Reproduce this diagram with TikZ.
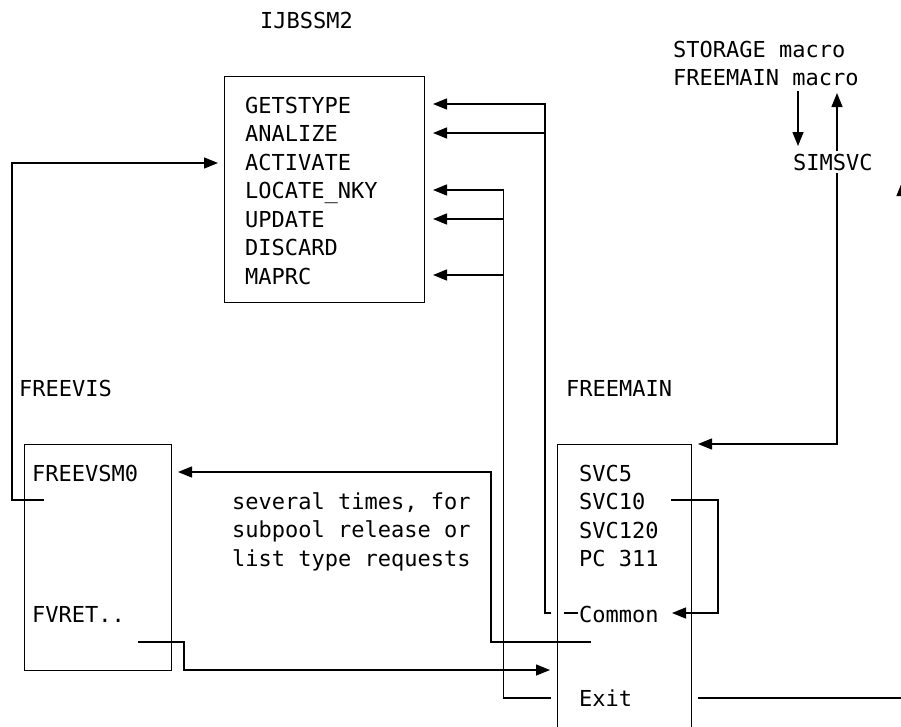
\documentclass[tikz,border=0pt]{standalone}
\usepackage{fontspec}
\newfontfamily\mono{DejaVu Sans Mono}
\usetikzlibrary{arrows.meta}
\begin{document}
\begin{tikzpicture}[x=1pt,y=-1pt,
  box/.style={draw, line width=1.4pt, inner sep=0pt, anchor=north west},
  lbl/.style={anchor=base west, inner sep=0pt, font=\mono\fontsize{22}{26}\selectfont},
  conn/.style={line width=1.4pt},
  arr/.style={conn,-{Triangle[length=14pt,width=11pt]}},
  darr/.style={conn,{Triangle[length=14pt,width=11pt]}-{Triangle[length=14pt,width=11pt]}}]
\clip (0,0) rectangle (901,726);
% boxes
\node[box, minimum width=200pt, minimum height=226pt] (ij) at (224,76) {};
\node[box, minimum width=147pt, minimum height=226pt] (fv) at (24,444) {};
\node[box, minimum width=134pt, minimum height=300pt] (fm) at (557,444) {};
% texts
\node[lbl] (tij) at (260,28) {IJBSSM2};
\node[lbl] (tsto) at (673,57) {STORAGE macro};
\node[lbl] (tfre) at (673,85) {FREEMAIN macro};
\node[lbl] (g1) at (245,113) {GETSTYPE};
\node[lbl] (g2) at (245,141.5) {ANALIZE};
\node[lbl] (g3) at (245,170) {ACTIVATE};
\node[lbl] (g4) at (245,198.5) {LOCATE\_NKY};
\node[lbl] (g5) at (245,227) {UPDATE};
\node[lbl] (g6) at (245,255.5) {DISCARD};
\node[lbl] (g7) at (245,284) {MAPRC};
\node[lbl] (tfvis) at (19,396) {FREEVIS};
\node[lbl] (tfmain) at (566,396) {FREEMAIN};
\node[lbl] (v1) at (32,481) {FREEVSM0};
\node[lbl] (v2) at (32,622) {FVRET..};
\node[lbl] (n1) at (232,509) {several times, for};
\node[lbl] (n2) at (232,537.5) {subpool release or};
\node[lbl] (n3) at (232,566) {list type requests};
\node[lbl] (s1) at (579,481) {SVC5};
\node[lbl] (s2) at (579,509.5) {SVC10};
\node[lbl] (s3) at (579,538) {SVC120};
\node[lbl] (s4) at (579,566) {PC 311};
\node[lbl] (s5) at (579,622) {Common};
\node[lbl] (s6) at (579,706) {Exit};
% coordinates
\coordinate (aG1) at (433,104);
\coordinate (aG2) at (433,133);
\coordinate (aG4) at (433,190);
\coordinate (aG5) at (433,219);
\coordinate (aG7) at (433,275);
\coordinate (busA) at (545,613);
\coordinate (busB) at (503.5,698);
% FREEVIS call
\coordinate (fvs) at (44,500);
\coordinate (fvt) at (218,163);
\draw[arr] (fvs) -- (12,500) -- (12,163) -- (fvt);
% Common -> GETSTYPE, ANALIZE
\draw[conn] (564,613) -- (578,613);
\draw[arr] (551,613) -- (busA) -- (545,104) -- (aG1);
\draw[arr] (545,133) -- (aG2);
% Exit -> LOCATE_NKY, UPDATE, MAPRC
\draw[arr] (551,698) -- (busB) -- (503.5,190) -- (aG4);
\draw[arr] (503.5,219) -- (aG5);
\draw[arr] (503.5,275) -- (aG7);
% FREEMAIN -> FREEVSM0
\draw[arr] (591,642) -- (491,642) -- (491,472) -- (178,472);
% FVRET -> Exit
\draw[arr] (138,642) -- (184,642) -- (184,670) -- (550,670);
% SVC10 -> Common
\draw[arr] (671,500) -- (718,500) -- (718,613) -- (672,613);
% Exit onwards (cut off at right edge)
\draw[arr] (698,698) -- (902,698) -- (902,182);
% FREEMAIN macro -> SIMSVC
\draw[arr] (798,91) -- (798,146);
% SIMSVC <-> FREEMAIN box and macro
\draw[darr] (698,444) -- (837,444) -- (837,93);
\node[lbl, fill=white, inner ysep=3pt] (sim) at (793,170) {SIMSVC};
\end{tikzpicture}
\end{document}
